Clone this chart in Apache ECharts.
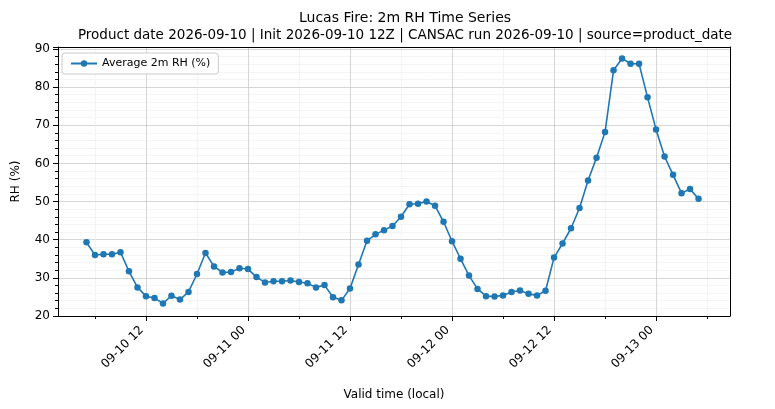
<!DOCTYPE html><html><head><meta charset="utf-8"><script src="https://cdn.jsdelivr.net/npm/echarts@6/dist/echarts.min.js"></script></head><body style="margin:0"><div id="c" style="width:775px;height:409px"></div><script>
// hours since 2026-09-10 00:00 local
const startHour = 5;
const rh = [39.3,36,36.2,36.2,36.7,31.7,27.5,25.2,24.7,23.3,25.3,24.3,26.3,31,36.5,33,31.4,31.5,32.5,32.3,30.2,28.8,29.1,29.1,29.3,28.9,28.6,27.5,28.1,24.9,24.1,27.2,33.5,39.7,41.4,42.5,43.6,46,49.3,49.4,50,48.9,44.7,39.6,35,30.6,27.1,25.2,25.1,25.4,26.3,26.7,25.8,25.4,26.6,35.3,39,43,48.3,55.5,61.5,68.2,84.4,87.5,86.1,86.1,77.3,68.9,61.8,57,52.2,53.3,50.7];
const tickHours = [12,24,36,48,60,72];
const tickLabels = ['09-10 12','09-11 00','09-11 12','09-12 00','09-12 12','09-13 00'];
const minorHours = [6,18,30,42,54,66,78];
const data = rh.map((v,i)=>[startHour+i,v]);
const F='DejaVu Sans';
const xmin=1.65,xmax=80.7;
echarts.init(document.getElementById('c')).setOption({
 animation:false,
 textStyle:{fontFamily:F},
 title:{text:'Lucas Fire: 2m RH Time Series',subtext:'Product date 2026-09-10 | Init 2026-09-10 12Z | CANSAC run 2026-09-10 | source=product_date',left:400,textAlign:'center',top:6,itemGap:3,
  textStyle:{fontFamily:F,fontSize:14,fontWeight:'normal',color:'#000'},subtextStyle:{fontFamily:F,fontSize:13.5,color:'#000'}},
 legend:{left:62,top:53,orient:'vertical',backgroundColor:'#fff',borderColor:'#ccc',borderWidth:1,borderRadius:3,padding:[5,8],itemWidth:26,itemHeight:8,
  textStyle:{fontFamily:F,fontSize:11,color:'#000'}},
 grid:{left:58,right:45,top:47,bottom:93},
 xAxis:[{type:'value',min:xmin,max:xmax,name:'Valid time (local)',nameLocation:'middle',nameGap:73,nameTextStyle:{fontSize:12,color:'#000'},
  axisLine:{onZero:false,lineStyle:{color:'#000'}},
  axisTick:{customValues:tickHours,length:5,lineStyle:{color:'#000'}},
  axisLabel:{customValues:tickHours,rotate:45,fontSize:12,color:'#000',margin:8,padding:[0,6,0,0],formatter:v=>tickLabels[tickHours.indexOf(v)]||''},
  splitLine:{show:true,lineStyle:{color:'#ccc',width:0.8}}},
  {type:'value',min:xmin,max:xmax,position:'bottom',axisLine:{show:false},
  axisTick:{customValues:minorHours,length:3,lineStyle:{color:'#000'}},axisLabel:{show:false,customValues:minorHours},
  splitLine:{show:true,lineStyle:{color:'#e4e4e4',width:0.8,type:'dotted'}}},
  {type:'value',min:xmin,max:xmax,position:'top',axisLine:{show:true,lineStyle:{color:'#000'}},axisTick:{show:false},axisLabel:{show:false},splitLine:{show:false}}],
 yAxis:[{type:'value',min:20,max:90.5,interval:10,name:'RH (%)',nameLocation:'middle',nameGap:36,nameTextStyle:{fontSize:12,color:'#000'},
  axisLine:{show:true,lineStyle:{color:'#000'}},axisTick:{show:true,length:5,lineStyle:{color:'#000'}},
  axisLabel:{fontSize:12,color:'#000',showMaxLabel:false,formatter:v=>v%10===0?v:''},
  minorTick:{show:true,splitNumber:5,length:3,lineStyle:{color:'#000'}},
  splitLine:{lineStyle:{color:'#ccc',width:0.8}},minorSplitLine:{show:true,lineStyle:{color:'#e4e4e4',width:0.8,type:'dotted'}}},
  {type:'value',min:20,max:90.5,position:'right',axisLine:{show:true,lineStyle:{color:'#000'}},axisTick:{show:false},axisLabel:{show:false},splitLine:{show:false}}],
 series:[{name:'Average 2m RH (%)',type:'line',data:data,symbol:'circle',symbolSize:6.5,
  lineStyle:{color:'#1f77b4',width:1.6},itemStyle:{color:'#1f77b4'}}]
});
</script></body></html>
